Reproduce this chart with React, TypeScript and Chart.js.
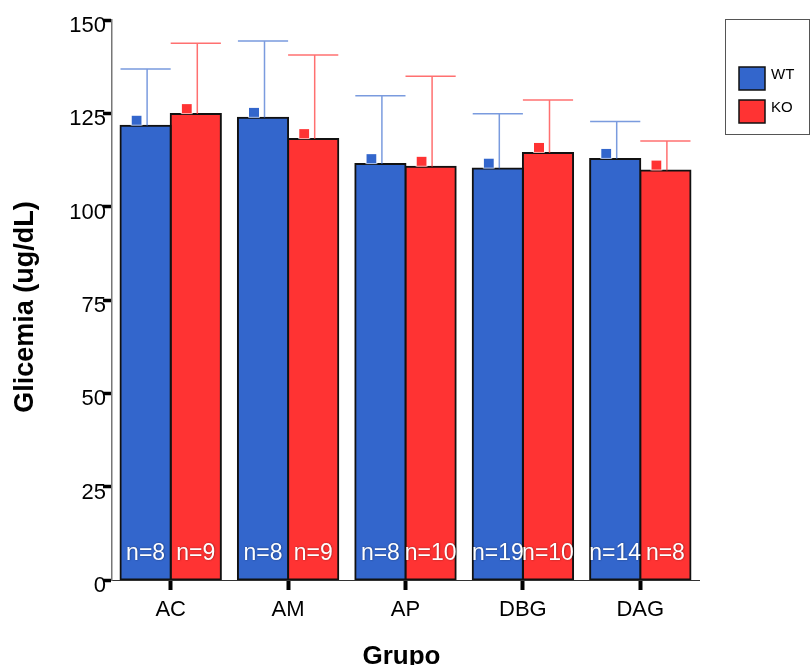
import React, { useEffect, useRef } from 'react';
import { Chart, registerables } from 'chart.js';

Chart.register(...registerables);

// ---- data ----
const categories = ['AC', 'AM', 'AP', 'DBG', 'DAG'];
const wtMeans = [121.7, 123.8, 111.4, 110.2, 112.8];
const koMeans = [124.8, 118.1, 110.7, 114.4, 109.7];
const wtErr = [15.2, 20.6, 18.3, 14.7, 10.0];
const koErr = [19.0, 22.5, 24.2, 14.2, 7.9];
const wtN = [8, 8, 8, 19, 14];
const koN = [9, 9, 10, 10, 8];
const yTicks = [0, 25, 50, 75, 100, 125, 150];
const seriesNames = ['WT', 'KO'];
const xTitle = 'Grupo';
const yTitle = 'Glicemia (ug/dL)';

const BLUE = '#3366CC';
const RED = '#FF3333';
const FONT = "'Liberation Sans', Arial, Helvetica, sans-serif";

export default function App() {
  const ref = useRef<HTMLCanvasElement>(null);

  useEffect(() => {
    document.body.style.margin = '0';
    const canvas = ref.current;
    if (!canvas) return;

    const sets = [
      { err: wtErr, n: wtN, line: 'rgba(51,102,204,0.65)', fill: BLUE },
      { err: koErr, n: koN, line: 'rgba(255,51,51,0.7)', fill: RED },
    ];

    const extras = {
      id: 'extras',
      afterDatasetsDraw(chart: any) {
        const ctx = chart.ctx;
        const ys = chart.scales.y;
        sets.forEach((s, di) => {
          const meta = chart.getDatasetMeta(di);
          meta.data.forEach((el: any, i: number) => {
            const { x, y: top, width } = el.getProps(['x', 'y', 'width'], true);
            const v = chart.data.datasets[di].data[i] as number;
            const errY = ys.getPixelForValue(v + s.err[i]);
            ctx.save();
            ctx.strokeStyle = s.line;
            ctx.lineWidth = 1.5;
            ctx.beginPath();
            ctx.moveTo(x + 1.5, top);
            ctx.lineTo(x + 1.5, errY);
            ctx.moveTo(x - width / 2, errY);
            ctx.lineTo(x + width / 2, errY);
            ctx.stroke();
            // small marker square above bar
            ctx.fillStyle = s.fill;
            ctx.fillRect(x - 14, top - 10, 10, 10);
            ctx.strokeStyle = 'rgba(255,255,255,0.6)';
            ctx.lineWidth = 1;
            ctx.strokeRect(x - 14.5, top - 10.5, 11, 10);
            // n label
            ctx.font = `23px ${FONT}`;
            ctx.textAlign = 'center';
            ctx.textBaseline = 'middle';
            ctx.shadowColor = 'rgba(0,0,0,0.45)';
            ctx.shadowBlur = 2;
            ctx.shadowOffsetX = 0.5;
            ctx.shadowOffsetY = 0.5;
            ctx.fillStyle = '#ffffff';
            ctx.fillText('n=' + s.n[i], x, ys.getPixelForValue(0) - 26.5);
            ctx.restore();
          });
        });
      },
      afterDraw(chart: any) {
        const ctx = chart.ctx;
        const area = chart.chartArea;
        ctx.save();
        // y axis title
        ctx.translate(25.5, (area.top + area.bottom) / 2 + 7);
        ctx.rotate(-Math.PI / 2);
        ctx.font = `bold 27px ${FONT}`;
        ctx.fillStyle = '#000';
        ctx.textAlign = 'center';
        ctx.textBaseline = 'middle';
        ctx.fillText(yTitle, 0, 0);
        ctx.restore();

        // x axis title
        ctx.save();
        ctx.font = `bold 26px ${FONT}`;
        ctx.fillStyle = '#000';
        ctx.textAlign = 'center';
        ctx.textBaseline = 'alphabetic';
        ctx.fillText(xTitle, (area.left + area.right) / 2 - 4, 663.5);
        ctx.restore();

        // legend
        ctx.save();
        ctx.strokeStyle = '#555';
        ctx.lineWidth = 1;
        ctx.strokeRect(725.5, 19.5, 84, 115);
        const cols = [BLUE, RED];
        const rows = [67, 100];
        seriesNames.forEach((name, i) => {
          ctx.fillStyle = cols[i];
          ctx.fillRect(739, rows[i], 26, 23);
          ctx.strokeStyle = '#111';
          ctx.lineWidth = 1.5;
          ctx.strokeRect(739, rows[i], 26, 23);
          ctx.fillStyle = '#000';
          ctx.font = `15px ${FONT}`;
          ctx.textAlign = 'left';
          ctx.textBaseline = 'middle';
          ctx.fillText(name, 771, rows[i] + 8);
        });
        ctx.restore();
      },
    };

    const chart = new Chart(canvas, {
      type: 'bar',
      data: {
        labels: categories,
        datasets: [
          {
            label: seriesNames[0],
            data: wtMeans,
            backgroundColor: BLUE,
            borderColor: '#111',
            borderWidth: 2,
            borderSkipped: false,
            inflateAmount: 1,
          },
          {
            label: seriesNames[1],
            data: koMeans,
            backgroundColor: RED,
            borderColor: '#111',
            borderWidth: 2,
            borderSkipped: false,
            inflateAmount: 1,
          },
        ],
      },
      options: {
        responsive: false,
        animation: false,
        layout: { padding: { top: 20, right: 112, left: 0, bottom: 0 } },
        datasets: { bar: { categoryPercentage: 0.855, barPercentage: 1 } },
        plugins: {
          legend: { display: false },
          tooltip: { enabled: false },
        },
        scales: {
          x: {
            grid: {
              display: true,
              offset: false,
              drawOnChartArea: false,
              tickLength: 10,
              tickWidth: 4,
              tickColor: '#000',
            },
            border: { color: '#333', width: 1 },
            ticks: { color: '#000', font: { family: FONT, size: 22 }, padding: 7 },
            afterFit(scale: any) {
              scale.height = 85;
            },
          },
          y: {
            min: 0,
            max: 150,
            afterBuildTicks(scale: any) {
              scale.ticks = yTicks.map((v) => ({ value: v }));
            },
            grid: {
              display: true,
              drawOnChartArea: false,
              tickLength: 9,
              tickWidth: 3.5,
              tickColor: '#000',
            },
            border: { color: '#777', width: 1.5 },
            ticks: {
              color: '#000',
              font: { family: FONT, size: 22 },
              padding: -3,
              labelOffset: 6,
            },
            afterFit(scale: any) {
              scale.width = 112;
            },
          },
        },
      },
      plugins: [extras],
    });

    return () => chart.destroy();
  }, []);

  return (
    <div style={{ position: 'absolute', left: 0, top: 0, width: 811, height: 665, background: '#fff' }}>
      <canvas ref={ref} width={811} height={665} style={{ display: 'block' }} />
    </div>
  );
}
